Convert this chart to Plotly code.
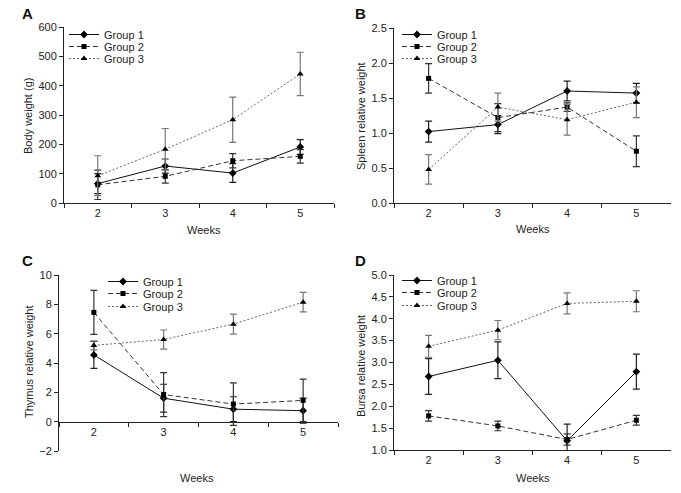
import plotly.graph_objects as go

weeks = ["2", "3", "4", "5"]
groups = ["Group 1", "Group 2", "Group 3"]

# Panel A: Body weight (g)
body_mean = [[66, 126, 102, 191], [62, 91, 144, 159], [93, 183, 284, 440]]
body_err = [[34, 24, 32, 25], [50, 23, 24, 23], [68, 71, 77, 74]]
# Panel B: Spleen relative weight
spleen_mean = [[1.02, 1.12, 1.60, 1.57], [1.78, 1.22, 1.37, 0.74], [0.48, 1.37, 1.19, 1.44]]
spleen_err = [[0.15, 0.13, 0.14, 0.14], [0.21, 0.20, 0.06, 0.22], [0.21, 0.20, 0.22, 0.22]]
# Panel C: Thymus relative weight
thymus_mean = [[4.55, 1.60, 0.85, 0.75], [7.45, 1.85, 1.20, 1.45], [5.20, 5.60, 6.65, 8.15]]
thymus_err = [[0.92, 0.95, 0.85, 0.85], [1.50, 1.50, 1.45, 1.45], [0.30, 0.65, 0.68, 0.67]]
# Panel D: Bursa relative weight
bursa_mean = [[2.68, 3.05, 1.21, 2.79], [1.78, 1.55, 1.24, 1.68], [3.37, 3.74, 4.35, 4.40]]
bursa_err = [[0.41, 0.42, 0.38, 0.40], [0.12, 0.11, 0.13, 0.11], [0.25, 0.22, 0.24, 0.24]]

panels = [
    ("A", "Body weight (g)", body_mean, body_err, [0, 600], 100, "d"),
    ("B", "Spleen relative weight", spleen_mean, spleen_err, [0, 2.5], 0.5, ".1f"),
    ("C", "Thymus relative weight", thymus_mean, thymus_err, [-2, 10], 2, "d"),
    ("D", "Bursa relative weight", bursa_mean, bursa_err, [1.0, 5.0], 0.5, ".1f"),
]

W, H = 681, 493
FONT = "Liberation Sans, Arial, sans-serif"

# pixel boxes of the plot areas: (left, right, top, bottom)
boxes = [(64, 334, 27, 203), (394, 671, 28, 203), (59, 338, 275, 451), (394, 671, 275, 450)]
symbols = ["diamond", "square", "triangle-up"]
dashes = ["solid", "5px,3px", "2px,2px"]
line_colors = ["#111111", "#333333", "#666666"]
err_colors = ["#222222", "#333333", "#777777"]
legend_x = [64, 397, 103, 397]
legend_rows = [(33, 45, 57), (33, 45, 57), (280, 292, 305), (279, 291, 304)]
title_pos = [(28, 116), (361, 116), (29, 362), (361, 366)]
weeks_pos = [(204, 230), (533, 229), (197, 478), (533, 478)]
letter_pos = [(27, 14), (360, 14), (27, 260), (360, 260)]

fig = go.Figure()
layout = dict(width=W, height=H,
              margin=dict(l=0, r=0, t=0, b=0, pad=0, autoexpand=False),
              plot_bgcolor="white", paper_bgcolor="white",
              font=dict(family=FONT, size=11, color="#222222"), annotations=[])


def ann(text, px, py, **kw):
    d = dict(text=text, x=px / W, y=1 - py / H, xref="paper", yref="paper",
             showarrow=False, xanchor="center", yanchor="middle",
             font=dict(size=11, color="#222"))
    d.update(kw)
    layout["annotations"].append(d)


leg_idx = 1
for i, (letter, ytitle, means, errs, yr, dt, fmt) in enumerate(panels):
    n = "" if i == 0 else str(i + 1)
    l, r, t, b = boxes[i]
    xd = [l / W, r / W]
    yd = [1 - b / H, 1 - t / H]
    for g in range(3):
        leg_idx += 1
        leg = "legend" + str(leg_idx)
        fig.add_trace(go.Scatter(
            x=weeks, y=means[g], name=groups[g], mode="lines+markers",
            xaxis="x" + n, yaxis="y" + n, legend=leg,
            line=dict(color=line_colors[g], width=1, dash=dashes[g]),
            marker=dict(symbol=symbols[g], size=6 if g != 1 else 5, color="black"),
            error_y=dict(type="data", array=errs[g], visible=True,
                         color=err_colors[g], thickness=1.2, width=3.5),
        ))
        layout[leg] = dict(x=legend_x[i] / W, y=1 - (legend_rows[i][g] - 13) / H,
                           xanchor="left", yanchor="top",
                           bgcolor="rgba(0,0,0,0)", font=dict(size=11, color="#222"),
                           itemwidth=30)
    xa = dict(domain=xd, anchor="y" + n, type="category", range=[-0.5, 3.5],
              tickson="boundaries", ticks="outside", ticklen=4, tickcolor="#222",
              showline=True, linecolor="#222", linewidth=1, showgrid=False,
              zeroline=False, automargin=False, tickfont=dict(size=11))
    if letter == "C":
        frac = (0 - yr[0]) / (yr[1] - yr[0])
        xa["anchor"] = "free"
        xa["position"] = yd[0] + (yd[1] - yd[0]) * frac
    ya = dict(domain=yd, anchor="x" + n, range=yr, dtick=dt, tick0=yr[0],
              tickformat=fmt, ticks="outside", ticklen=4, tickcolor="#222",
              showline=True, linecolor="#222", linewidth=1, showgrid=False,
              zeroline=False, automargin=False, tickfont=dict(size=11))
    layout["xaxis" + n] = xa
    layout["yaxis" + n] = ya
    tx, ty = title_pos[i]
    ann(ytitle, tx, ty, textangle=-90)
    wx, wy = weeks_pos[i]
    ann("Weeks", wx, wy)
    cx, cy = letter_pos[i]
    ann("<b>" + letter + "</b>", cx, cy, font=dict(size=15, color="#111"))

fig.update_layout(**layout)
fig.write_html("out.html", config={"displayModeBar": False},
               post_script="document.body.style.margin='0';document.body.style.overflow='hidden';")
